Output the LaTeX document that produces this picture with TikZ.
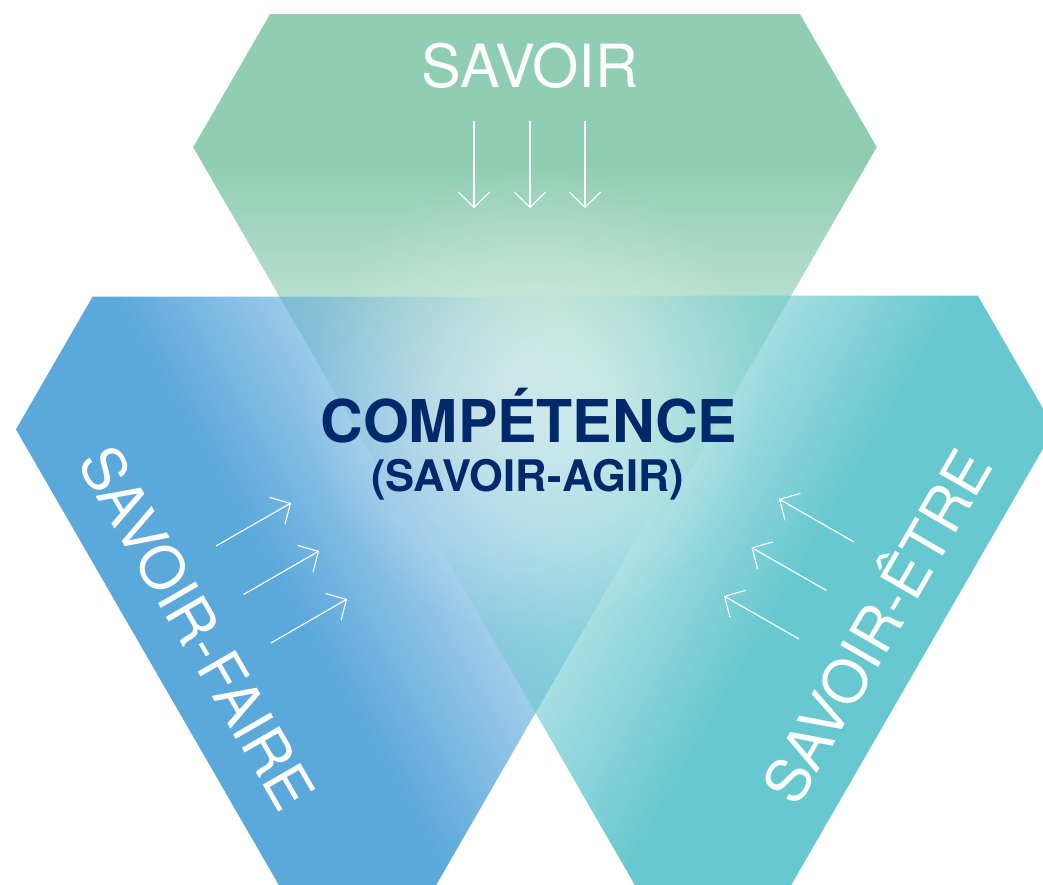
\documentclass[tikz,border=0pt]{standalone}
\usepackage{fontspec}
\setmainfont{TeX Gyre Heros}
\usetikzlibrary{arrows.meta,fadings}

\definecolor{savgreen}{RGB}{144,206,179}
\definecolor{savblue}{RGB}{91,168,219}
\definecolor{savteal}{RGB}{104,200,207}
\definecolor{compnavy}{RGB}{0,41,107}

\pgfdeclareverticalshading{shapefadeshade}{100bp}{color(0bp)=(black); color(21bp)=(black); color(69bp)=(white); color(100bp)=(white)}
\pgfdeclarefading{shapefade}{\pgfuseshading{shapefadeshade}}
\pgfdeclareradialshading{glowshade}{\pgfpointorigin}{color(0bp)=(white); color(8bp)=(white); color(50bp)=(black)}
\pgfdeclarefading{glowfade}{\pgfuseshading{glowshade}}

\tikzset{
  whitelbl/.style={text=white, inner sep=0pt, font=\fontsize{59.5}{62}\selectfont},
  complbl/.style={text=compnavy, inner sep=0pt, font=\fontsize{59}{62}\selectfont\bfseries},
  sublbl/.style={text=compnavy, inner sep=0pt, font=\fontsize{43.5}{46}\selectfont\bfseries},
  flowarrow/.style={draw=white, line width=1.1pt, -{Straight Barb[length=15pt,width=31pt]}},
  shapefill/.style={path fading=shapefade, fit fading=false}
}

\begin{document}
\begin{tikzpicture}[x=1pt,y=1pt]
\useasboundingbox (0,0) rectangle (1043,884);
\fill[white] (0,0) rectangle (1043,884);
\clip (0,0) rectangle (1043,884);

% SAVOIR (green)
\fill[savgreen, shapefill, fading transform={shift={(535,570)}, xscale=14, yscale=7.97}]
  (270,870) -- (800,870) -- (876.8,737) -- (535,144.6) -- (193.2,737) -- cycle;
% SAVOIR-FAIRE (blue)
\fill[savblue, shapefill, fading transform={shift={(445.9,308.8)}, rotate=120, xscale=14, yscale=7.97}]
  (92,588) -- (622,588) -- (698.8,455) -- (357,-137.4) -- (15.2,455) -- cycle;
% SAVOIR-ETRE (teal)
\fill[savteal, shapefill, fading transform={shift={(624.1,308.8)}, rotate=-120, xscale=14, yscale=7.97}]
  (448,588) -- (978,588) -- (1054.8,455) -- (713,-137.4) -- (371.2,455) -- cycle;

% central glow
\fill[white, fill opacity=0.35, path fading=glowfade, fit fading=false,
      fading transform={shift={(535,484)}, scale=4.7}] (535,484) circle[radius=240];

% arrows
\coordinate (g1s) at (474,763); \coordinate (g1e) at (474,676);
\coordinate (g2s) at (530,763); \coordinate (g2e) at (530,676);
\coordinate (g3s) at (585,763); \coordinate (g3e) at (585,676);
\draw[flowarrow] (g1s) -- (g1e);
\draw[flowarrow] (g2s) -- (g2e);
\draw[flowarrow] (g3s) -- (g3e);

\coordinate (b1s) at (216,338);   \coordinate (b1e) at (291,381);
\coordinate (b2s) at (243.5,289.5); \coordinate (b2e) at (319,333);
\coordinate (b3s) at (271,241);   \coordinate (b3e) at (347,285);
\draw[flowarrow] (b1s) -- (b1e);
\draw[flowarrow] (b2s) -- (b2e);
\draw[flowarrow] (b3s) -- (b3e);

\coordinate (t1s) at (854,342);   \coordinate (t1e) at (779,385);
\coordinate (t2s) at (826.5,293.5); \coordinate (t2e) at (751.5,336.5);
\coordinate (t3s) at (799,245);   \coordinate (t3e) at (724,288);
\draw[flowarrow] (t1s) -- (t1e);
\draw[flowarrow] (t2s) -- (t2e);
\draw[flowarrow] (t3s) -- (t3e);

% labels
\node[whitelbl, anchor=base] (savoir) at (530,796) {SAVOIR};
\node[whitelbl, anchor=base, rotate=-60] (faire) at (178.6,245.3) {SAVOIR-FAIRE};
\node[whitelbl, anchor=base, rotate=60] (etre) at (895.9,246.8) {SAVOIR-ÊTRE};
\node[complbl, anchor=base] (comp) at (529,441) {COMPÉTENCE};
\node[sublbl, anchor=base] (agir) at (527.5,392) {(SAVOIR-AGIR)};
\end{tikzpicture}
\end{document}
